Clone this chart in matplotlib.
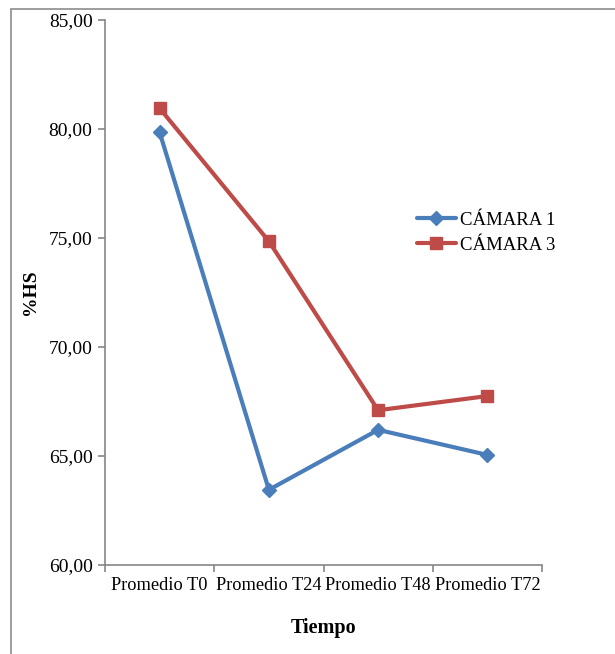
import matplotlib
matplotlib.use("Agg")
import matplotlib.pyplot as plt
from matplotlib.patches import Rectangle
from matplotlib.ticker import FixedLocator, FuncFormatter

categories = ["Promedio T0", "Promedio T24", "Promedio T48", "Promedio T72"]
camara1 = [79.85, 63.45, 66.2, 65.05]
camara3 = [80.95, 74.85, 67.1, 67.75]
series_names = ["CÁMARA 1", "CÁMARA 3"]

plt.rcParams['font.family'] = ['Liberation Serif', 'DejaVu Serif']

fig = plt.figure(figsize=(6.15, 6.54), dpi=100)
fig.patches.append(Rectangle((11/615, -0.1), 1.2, 1 - 9/654 + 0.1, transform=fig.transFigure,
                             fill=False, edgecolor='#8c8c8c', linewidth=1.2, clip_on=False))
ax = fig.add_axes([105/615, 89/654, 437/615, 545/654])

x = list(range(len(categories)))
ax.plot(x, camara1, color='#4a7ebb', linewidth=3, marker='D', markersize=7.5,
        label=series_names[0], solid_capstyle='round')
ax.plot(x, camara3, color='#be4b48', linewidth=3, marker='s', markersize=9,
        label=series_names[1], solid_capstyle='round')

ax.set_xlim(-0.5, len(categories) - 0.5)
ax.set_ylim(60, 85)
ax.set_yticks([60, 65, 70, 75, 80, 85])
ax.yaxis.set_major_formatter(FuncFormatter(lambda v, p: f"{v:.2f}".replace('.', ',')))
ax.set_xticks(x)
ax.set_xticklabels(categories)
ax.xaxis.set_minor_locator(FixedLocator([i - 0.5 for i in range(len(categories) + 1)]))
ax.tick_params(axis='x', which='major', length=0, labelsize=13.2, pad=9)
ax.tick_params(axis='x', which='minor', length=5, color='#868686', width=1.2)
ax.tick_params(axis='y', length=5, color='#868686', width=1.2, labelsize=14, pad=4)

for s in ['top', 'right']:
    ax.spines[s].set_visible(False)
for s in ['left', 'bottom']:
    ax.spines[s].set_color('#868686')
    ax.spines[s].set_linewidth(1.2)

ax.set_ylabel('%HS', fontsize=14, fontweight='bold', labelpad=7)
ax.set_xlabel('Tiempo', fontsize=14.5, fontweight='bold', labelpad=17)

ax.legend(loc='upper left', bbox_to_anchor=(308/437, 1 - 188/545), frameon=False,
          fontsize=13.5, handlelength=2.1, handletextpad=0.2, labelspacing=0.42,
          borderaxespad=0, borderpad=0.2)

fig.savefig('out.png', dpi=100)
